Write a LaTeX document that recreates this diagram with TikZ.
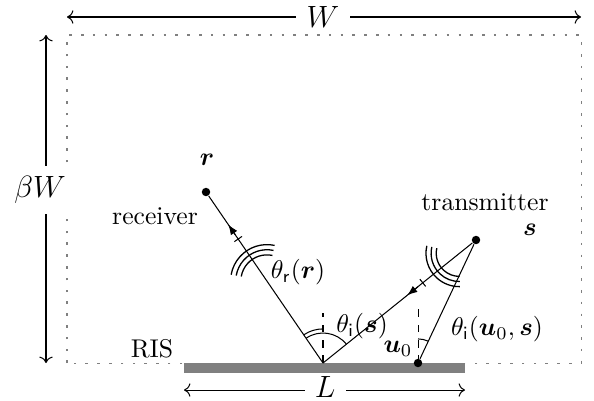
\documentclass[tikz,border=0pt]{standalone}
\usepackage{bm}
\usetikzlibrary{calc,arrows.meta}
\begin{document}
\begin{tikzpicture}[x=0.39pt,y=0.39pt,
  dimlbl/.style={fill=white,inner xsep=4pt,inner ysep=1pt,font=\large},
  dot/.style={circle,fill=black,inner sep=0pt,minimum size=3.3pt},
  txt/.style={inner sep=1pt},
  tip/.style={-{Latex[length=4pt,width=3pt]}},
  wave/.style={line width=0.5pt},
  boxline/.style={gray,dash pattern=on 1pt off 3.6pt}]
\useasboundingbox (0,0) rectangle (594,400);
% region and RIS
\draw[boxline] (67,37) rectangle (581,365);
\fill[gray] (184,27) rectangle (465,37);
% points
\coordinate (O) at (323,37);
\node[dot] (r) at (206,208) {};
\node[dot] (s) at (476,160) {};
\node[dot] (u0) at (418,37) {};
% dimension arrows
\coordinate (Wl) at (67,383); \coordinate (Wr) at (581,383);
\draw[<->] (Wl) -- (Wr);
\node[dimlbl] (Wlab) at (323,383) {$W$};
\coordinate (Hb) at (46,37); \coordinate (Ht) at (46,365);
\draw[<->] (Hb) -- (Ht);
\node[dimlbl,inner xsep=1pt,inner ysep=4pt] (Hlab) at (40,210) {$\beta W$};
\coordinate (Ll) at (184,10); \coordinate (Lr) at (465,10);
\draw[<->] (Ll) -- (Lr);
\node[dimlbl,inner ysep=0.5pt] (Llab) at (325,13) {$L$};
% rays
\draw (O) -- (r);
\draw (O) -- (s);
\draw (u0) -- (s);
% normals
\coordinate (On) at (323,87);
\coordinate (un) at (418,97);
\draw[dashed] (O) -- (On);
\draw[dashed] (u0.center) -- (un);
% angle arcs
\draw (O) ++(124.4:11.7pt) arc[start angle=124.4,end angle=38.8,radius=11.7pt];
\draw (O) ++(124.4:13.3pt) arc[start angle=124.4,end angle=90,radius=13.3pt];
\draw (u0.center) ++(64.75:9.4pt) arc[start angle=64.75,end angle=90,radius=9.4pt];
% wavefronts, receiver side
\coordinate (Cr) at (267,119);
\foreach \R in {10.2pt,12.2pt,14.2pt}
  \draw[wave] (Cr) ++(78:\R) arc[start angle=78,end angle=170,radius=\R];
\coordinate (Tr) at ($(O)!0.725!(r)$);
\draw ($(Tr)!1.8pt!90:(r)$) -- ($(Tr)!1.8pt!-90:(r)$);
\coordinate (Ar1) at ($(O)!0.75!(r)$);
\coordinate (Ar2) at ($(O)!0.81!(r)$);
\draw[tip] (Ar1) -- (Ar2);
% wavefronts, transmitter side
\coordinate (Cs) at (459.3,146.7);
\foreach \R in {9.0pt,11.0pt,13.0pt}
  \draw[wave] (Cs) ++(167:\R) arc[start angle=167,end angle=271,radius=\R];
\coordinate (Ts) at ($(O)!0.652!(s)$);
\draw ($(Ts)!1.8pt!90:(s)$) -- ($(Ts)!1.8pt!-90:(s)$);
\coordinate (As1) at ($(O)!0.62!(s)$);
\coordinate (As2) at ($(O)!0.55!(s)$);
\draw[tip] (As1) -- (As2);
% labels
\node[txt] (rl) at (207,240) {$\bm{r}$};
\node[txt] (recv) at (155,184) {receiver};
\node[txt] (trans) at (485,198) {transmitter};
\node[txt] (sl) at (530,170) {$\bm{s}$};
\node[txt] (thr) at (298,128) {$\theta_{\mathsf{r}}(\bm{r})$};
\node[txt] (this) at (362,74) {$\theta_{\mathsf{i}}(\bm{s})$};
\node[txt] (ul) at (398,51) {$\bm{u}_0$};
\node[txt] (thu) at (497,71) {$\theta_{\mathsf{i}}(\bm{u}_0,\bm{s})$};
\node[txt] (ris) at (152,51) {RIS};
\end{tikzpicture}
\end{document}
